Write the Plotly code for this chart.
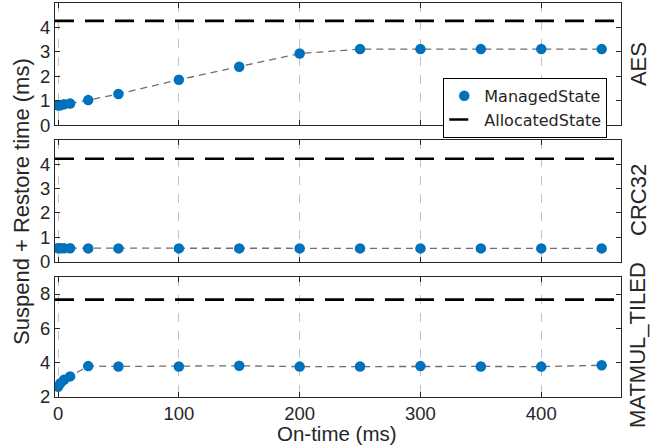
import plotly.graph_objects as go

# ---- data ----
on_time = [0, 2, 5, 10, 25, 50, 100, 150, 200, 250, 300, 350, 400, 450]
aes_managed = [0.80, 0.81, 0.85, 0.88, 1.02, 1.27, 1.85, 2.38, 2.92, 3.10, 3.10, 3.10, 3.10, 3.10]
crc_managed = [0.56, 0.56, 0.56, 0.56, 0.55, 0.55, 0.55, 0.55, 0.55, 0.55, 0.55, 0.55, 0.55, 0.55]
mat_managed = [2.60, 2.80, 3.00, 3.20, 3.80, 3.78, 3.78, 3.82, 3.77, 3.78, 3.80, 3.78, 3.77, 3.85]
aes_alloc = 4.25
crc_alloc = 4.22
mat_alloc = 7.67
benchmarks = ["AES", "CRC32", "MATMUL_TILED"]
x_ticks = [0, 100, 200, 300, 400]
y_ticks = [[0, 1, 2, 3, 4], [0, 1, 2, 3, 4], [2, 4, 6, 8]]
x_range = [-2.5, 466]
y_ranges = [[0, 4.98], [0, 4.98], [2, 9]]

managed = [aes_managed, crc_managed, mat_managed]
alloc = [aes_alloc, crc_alloc, mat_alloc]

BLUE = "#0072BD"
INK = "#262626"
FONT = "Liberation Sans, Arial, Helvetica, sans-serif"

fig = go.Figure()
for i in range(3):
    xa = "x" if i == 0 else f"x{i+1}"
    ya = "y" if i == 0 else f"y{i+1}"
    fig.add_trace(go.Scatter(x=on_time, y=managed[i], mode="lines", xaxis=xa, yaxis=ya,
                             line=dict(color="#6e6e6e", width=1.3, dash="7px,5px"),
                             showlegend=False, hoverinfo="skip"))
    fig.add_trace(go.Scatter(x=on_time, y=managed[i], mode="markers", xaxis=xa, yaxis=ya,
                             marker=dict(color=BLUE, size=10.5),
                             name="ManagedState", showlegend=(i == 0)))
    fig.add_trace(go.Scatter(x=x_range, y=[alloc[i], alloc[i]], mode="lines", xaxis=xa, yaxis=ya,
                             line=dict(color="black", width=2.6, dash="19px,11px"),
                             name="AllocatedState", showlegend=(i == 0)))

# plot area pixel geometry: top 3, bottom 397 (height 394)
domains = [[0.690, 1.0], [0.343, 0.652], [0.0, 0.305]]

axis_common = dict(showline=True, linecolor=INK, linewidth=1, mirror="ticks",
                   ticks="inside", ticklen=5, tickcolor=INK, zeroline=False,
                   automargin=False,
                   tickfont=dict(family=FONT, size=18.5, color=INK))

layout = dict(width=668, height=445, margin=dict(l=55, r=47, t=3, b=48),
              paper_bgcolor="white", plot_bgcolor="white",
              font=dict(family=FONT, color=INK))
for i in range(3):
    xk = "xaxis" if i == 0 else f"xaxis{i+1}"
    yk = "yaxis" if i == 0 else f"yaxis{i+1}"
    ya = "y" if i == 0 else f"y{i+1}"
    xa = "x" if i == 0 else f"x{i+1}"
    layout[xk] = dict(axis_common, range=x_range, tickvals=x_ticks, anchor=ya,
                      showticklabels=(i == 2), showgrid=True, griddash="dash",
                      gridcolor="rgba(38,38,38,0.28)", gridwidth=1, domain=[0, 1],
                      ticklabelstandoff=0)
    if i > 0:
        layout[xk]["matches"] = "x"
    layout[yk] = dict(axis_common, range=y_ranges[i], tickvals=y_ticks[i], anchor=xa,
                      showgrid=False, domain=domains[i])

fig.update_layout(**layout)

fig.update_layout(legend=dict(x=0.686, y=0.81, xanchor="left", yanchor="top",
                              bgcolor="white", bordercolor="black", borderwidth=1,
                              font=dict(family="DejaVu Sans, sans-serif", size=16, color=INK),
                              tracegroupgap=0, itemwidth=30))

label_y = [0.845, 0.500, 0.132]
for name, yy in zip(benchmarks, label_y):
    fig.add_annotation(text=name, xref="paper", yref="paper", x=1, y=yy, xshift=17,
                       xanchor="center", yanchor="middle", textangle=-90, showarrow=False,
                       font=dict(family=FONT, size=22, color=INK))

fig.add_annotation(text="Suspend + Restore time (ms)", xref="paper", yref="paper",
                   x=0, y=0.495, xshift=-33, xanchor="center", yanchor="middle",
                   textangle=-90, showarrow=False, font=dict(family=FONT, size=22, color=INK))
fig.add_annotation(text="On-time (ms)", xref="paper", yref="paper",
                   x=0.498, y=0, yshift=-36.5, xanchor="center", yanchor="middle",
                   showarrow=False, font=dict(family=FONT, size=20.5, color=INK))

fig.write_html("out.html", config={"displayModeBar": False},
               post_script="document.body.style.margin='0';document.body.style.overflow='hidden';")
